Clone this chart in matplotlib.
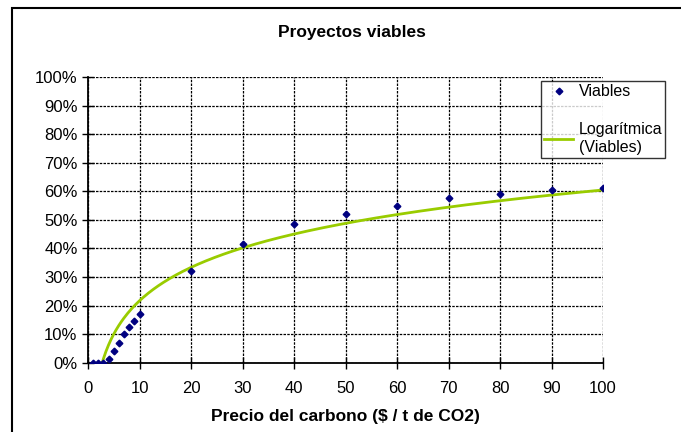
import numpy as np
import matplotlib
matplotlib.use("Agg")
import matplotlib.pyplot as plt
from matplotlib.patches import Rectangle
from matplotlib.ticker import PercentFormatter

plt.rcParams['font.family'] = ['Liberation Sans', 'DejaVu Sans']

# carbon price ($/t CO2) and share of viable projects
precio = [1, 2, 3, 4, 5, 6, 7, 8, 9, 10, 20, 30, 40, 50, 60, 70, 80, 90, 100]
viables = [0.0, 0.0, 0.0, 0.014, 0.041, 0.070, 0.100, 0.125, 0.146, 0.170,
           0.321, 0.414, 0.484, 0.519, 0.547, 0.575, 0.589, 0.604, 0.610]

# logarithmic trendline fitted on the data, as the spreadsheet does
a, b = np.polyfit(np.log(precio), viables, 1)
xt = np.linspace(1, 100, 400)
yt = a * np.log(xt) + b

fig = plt.figure(figsize=(6.81, 4.32), dpi=100)
fig.patches.append(Rectangle((12 / 681, -0.1), 1.2, (432 - 8) / 432 + 0.1,
                             transform=fig.transFigure, fill=False,
                             edgecolor='black', linewidth=1.5))

ax = fig.add_axes([88 / 681, (432 - 362.7) / 432, (603 - 88) / 681, (362.7 - 77) / 432])
ax.plot(precio, viables, linestyle='none', marker='D', markersize=3.4,
        color='#000080', label='Viables', zorder=3)
ax.plot(xt, yt, color='#99CC00', linewidth=2, label='Logarítmica\n(Viables)', zorder=2)

ax.set_xlim(0, 100)
ax.set_ylim(0, 1)
ax.set_xticks(np.arange(0, 101, 10))
ax.set_yticks(np.arange(0, 1.01, 0.1))
ax.yaxis.set_major_formatter(PercentFormatter(1.0, decimals=0))
ax.grid(True, color='black', linestyle=(0, (2, 1)), linewidth=0.9)
ax.tick_params(direction='inout', length=9, width=1, labelsize=12)
ax.tick_params(axis='y', pad=3)
ax.tick_params(axis='x', pad=9)
for side in ['top', 'right']:
    ax.spines[side].set_visible(False)
for side in ['left', 'bottom']:
    ax.spines[side].set_linewidth(1.3)

ax.set_xlabel('Precio del carbono ($ / t de CO2)', fontsize=12.5, fontweight='bold', labelpad=9)
fig.text(352 / 681, 1 - 33 / 432, 'Proyectos viables', fontsize=12.5, fontweight='bold',
         ha='center', va='center')

leg = ax.legend(loc='upper left', bbox_to_anchor=((541 - 88) / (603 - 88), 1 - (81 - 77) / (362.7 - 77)),
                fontsize=11.5, frameon=True, fancybox=False, edgecolor='black',
                borderaxespad=0, handlelength=1.8, handletextpad=0.35,
                labelspacing=1.45, borderpad=0.2)
leg.get_frame().set_linewidth(1.0)

plt.savefig('out.png', dpi=100)
